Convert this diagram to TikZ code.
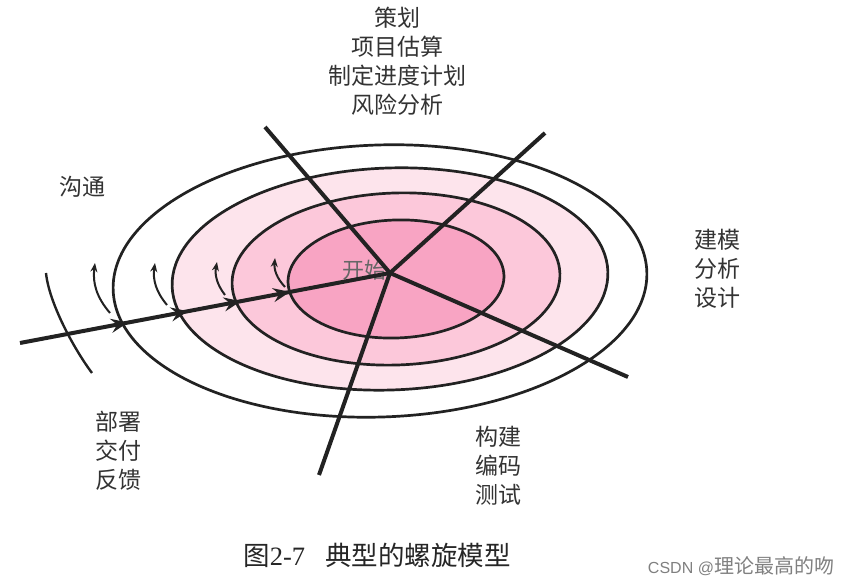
\documentclass[tikz,border=0pt]{standalone}
\usepackage{fontspec}
\setmainfont{Liberation Serif}
\newfontfamily\cjk{Noto Sans CJK SC}
\newfontfamily\wmsans{Liberation Sans}
\usetikzlibrary{arrows.meta,decorations.markings}
\definecolor{pinkA}{RGB}{248,164,195}
\definecolor{pinkB}{RGB}{252,200,218}
\definecolor{pinkC}{RGB}{253,228,236}
\definecolor{ink}{RGB}{34,34,34}
\begin{document}
\begin{tikzpicture}[x=1pt,y=1pt,
  ring/.style={draw=ink, line width=2.7pt},
  spoke/.style={draw=ink, line width=4pt},
  lab/.style={font=\cjk\fontsize{23}{29}\selectfont, align=center, text=black!80, inner sep=0pt},
  turn/.style={draw=ink, line width=2pt, -{Stealth[length=9pt,width=7pt]}},
  axisarrow/.style={-, postaction={decorate}, decoration={markings,
      mark=at position 0.292 with {\arrow{Stealth[length=17pt,width=14pt,inset=6pt]}},
      mark=at position 0.454 with {\arrow{Stealth[length=17pt,width=14pt,inset=6pt]}},
      mark=at position 0.597 with {\arrow{Stealth[length=17pt,width=14pt,inset=6pt]}},
      mark=at position 0.730 with {\arrow{Stealth[length=17pt,width=14pt,inset=6pt]}}}},
]
\useasboundingbox (0,0) rectangle (852,585);
\fill[white] (0,0) rectangle (852,585);

% rings
\path[ring, fill=white, rotate around={2:(380,304)}] (380,304) ellipse [x radius=267, y radius=136];
\path[ring, fill=pinkC, rotate around={2:(390,306)}] (390,306) ellipse [x radius=218, y radius=111];
\path[ring, fill=pinkB, rotate around={2:(396,306)}] (396,306) ellipse [x radius=164, y radius=86];
\path[ring, fill=pinkA, rotate around={2:(396,306)}] (396,306) ellipse [x radius=108, y radius=59];

\node[font=\cjk\fontsize{22}{22}\selectfont, text=black!60, inner sep=0pt] (start) at (364,315) {开始};

% coordinates
\coordinate (C) at (390,312);
\coordinate (P1) at (265,458);
\coordinate (P2) at (545,452);
\coordinate (P3) at (628,208);
\coordinate (P4) at (319,110);
\coordinate (P5) at (20,242);

% outer partial arc
\coordinate (Q0) at (46,312);
\coordinate (Q1) at (92,212);
\draw[ink, line width=2.4pt] (Q0) .. controls (49,282) and (74,236) .. (Q1);

% small turning arrows
\coordinate (a1) at (110,272); \coordinate (b1) at (95,322);
\coordinate (a2) at (167,280); \coordinate (b2) at (155,322);
\coordinate (a3) at (225,290); \coordinate (b3) at (217,323);
\coordinate (a4) at (285,298); \coordinate (b4) at (275,327);
\draw[turn] (a1) to[bend left=24] (b1);
\draw[turn] (a2) to[bend left=24] (b2);
\draw[turn] (a3) to[bend left=24] (b3);
\draw[turn] (a4) to[bend left=24] (b4);

% spokes
\draw[spoke, axisarrow] (P5) -- (C);
\draw[spoke] (C) -- (P1);
\draw[spoke] (C) -- (P2);
\draw[spoke] (C) -- (P3);
\draw[spoke] (C) -- (P4);

% labels
\node[lab] (plan) at (397,523.5) {策划\\项目估算\\制定进度计划\\风险分析};
\node[lab] (comm) at (82,398) {沟通};
\node[lab] (model) at (717,316.5) {建模\\分析\\设计};
\node[lab] (deploy) at (118,134.5) {部署\\交付\\反馈};
\node[lab] (build) at (498,119) {构建\\编码\\测试};

\node[inner sep=0pt, text=black!85] (cap) at (377,30)
  {\fontsize{26.5}{30}\selectfont{\cjk 图}2-7\hspace{20pt}{\cjk 典型的螺旋模型}};
\node[inner sep=0pt, text=black!50] (wm) at (741,19)
  {{\wmsans\fontsize{16}{20}\selectfont CSDN @}{\cjk\fontsize{20}{20}\selectfont 理论最高的吻}};
\end{tikzpicture}
\end{document}
